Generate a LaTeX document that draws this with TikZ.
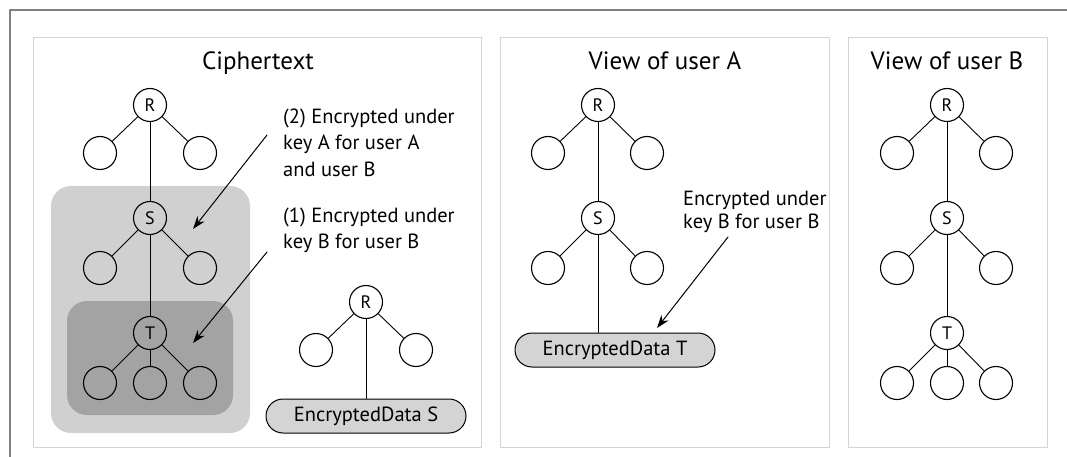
\documentclass[tikz,border=0pt]{standalone}
\usepackage{fontspec}
\setmainfont{PT Sans}
\usetikzlibrary{arrows.meta}
\definecolor{lightbox}{RGB}{208,208,208}
\definecolor{darkbox}{RGB}{163,163,163}
\definecolor{capfill}{RGB}{212,212,212}
\definecolor{panelline}{RGB}{212,212,212}
\definecolor{framegray}{RGB}{128,128,128}

\begin{document}
\begin{tikzpicture}[line cap=round,line join=round,>={Stealth[length=13pt,width=9pt]},x=1pt,y=-1pt,
	knot/.style={circle,draw,line width=1.1pt,minimum size=33pt,inner sep=0pt,font=\fontsize{18}{18}\selectfont},
	leaf/.style={circle,draw,line width=1.1pt,minimum size=33pt,inner sep=0pt},
	edge/.style={line width=0.9pt},
	capsule/.style={draw,line width=1pt,fill=capfill,rounded corners=17pt,minimum width=200pt,minimum height=34pt,inner sep=0pt,font=\fontsize{20.5}{20.5}\selectfont},
	title/.style={anchor=base,font=\fontsize{25}{25}\selectfont},
	note/.style={anchor=base west,align=left,inner sep=0pt,font=\fontsize{20.5}{26}\selectfont}]
			\useasboundingbox (0,0) rectangle (1067,457);
			%%%%%%%%%%%%%%% F R A M E %%%%%%%%%%%%%%%%
			\draw [line width=1.2pt,color=framegray] (1067,10) -- (10,10) -- (10,457);
			%panels
			\draw [line width=0.8pt,color=panelline] (33,37) rectangle (481,447);
			\draw [line width=0.8pt,color=panelline] (500,37) rectangle (829,447);
			\draw [line width=0.8pt,color=panelline] (848,37) rectangle (1047,447);
			%%%%%%%%%%%%%%% S H A D E S %%%%%%%%%%%%%%%%
			\fill [color=lightbox,rounded corners=20pt] (51,186) rectangle (250,433);
			\fill [color=darkbox,rounded corners=20pt] (67,301) rectangle (233,415);
			%%%%%%%%%%%%%%% T I T L E S %%%%%%%%%%%%%%%%
			\node [title] (tcipher) at (258,70) {Ciphertext};
			\node [title] (tviewA) at (665,70) {View of user A};
			\node [title] (tviewB) at (947,70) {View of user B};
			%%%%%%%%%%%%%%% C I P H E R T E X T %%%%%%%%%%%%%%%%
			%tree 1
			\node [knot] (cR) at (150,105) {R};
			\node [leaf] (cRl) at (100,153) {};
			\node [leaf] (cRr) at (200,153) {};
			\node [knot] (cS) at (150,218) {S};
			\node [leaf] (cSl) at (100,268) {};
			\node [leaf] (cSr) at (200,268) {};
			\node [knot] (cT) at (150,333) {T};
			\node [leaf] (cTl) at (100,383) {};
			\node [leaf] (cTm) at (150,383) {};
			\node [leaf] (cTr) at (200,383) {};
			\draw [edge] (cR) -- (cRl);
			\draw [edge] (cR) -- (cRr);
			\draw [edge] (cR) -- (cS);
			\draw [edge] (cS) -- (cSl);
			\draw [edge] (cS) -- (cSr);
			\draw [edge] (cS) -- (cT);
			\draw [edge] (cT) -- (cTl);
			\draw [edge] (cT) -- (cTm);
			\draw [edge] (cT) -- (cTr);
			%tree 2
			\node [knot] (dR) at (366,302) {R};
			\node [leaf] (dRl) at (316,350) {};
			\node [leaf] (dRr) at (416,350) {};
			\node [capsule] (dataS) at (366,416) {EncryptedData S};
			\draw [edge] (dR) -- (dRl);
			\draw [edge] (dR) -- (dRr);
			\draw [edge] (dR) -- (dataS);
			%notes (base = last line)
			\node [note] (keyAB) at (283,176) {(2) Encrypted under\\key A for user A\\and user B};
			\node [note] (keyB) at (283,248) {(1) Encrypted under\\key B for user B};
			\coordinate (fromAB) at (267,135);
			\coordinate (toAB) at (193,229);
			\coordinate (fromB) at (267,252);
			\coordinate (toB) at (193,343);
			\draw [->,line width=1pt] (fromAB) -- (toAB);
			\draw [->,line width=1pt] (fromB) -- (toB);
			%%%%%%%%%%%%%%% U S E R   A %%%%%%%%%%%%%%%%
			\node [knot] (aR) at (598,105) {R};
			\node [leaf] (aRl) at (548,153) {};
			\node [leaf] (aRr) at (647,153) {};
			\node [knot] (aS) at (598,218) {S};
			\node [leaf] (aSl) at (548,268) {};
			\node [leaf] (aSr) at (647,268) {};
			\node [capsule] (dataT) at (615,350) {EncryptedData T};
			\draw [edge] (aR) -- (aRl);
			\draw [edge] (aR) -- (aRr);
			\draw [edge] (aR) -- (aS);
			\draw [edge] (aS) -- (aSl);
			\draw [edge] (aS) -- (aSr);
			\draw [edge] (aS) -- (aS |- dataT.north);
			\node [note,font=\fontsize{20.5}{23}\selectfont] (viewAkey) at (683,228) {Encrypted under\\key B for user B};
			\coordinate (fromT) at (728,237);
			\coordinate (toT) at (657,328);
			\draw [->,line width=1pt] (fromT) -- (toT);
			%%%%%%%%%%%%%%% U S E R   B %%%%%%%%%%%%%%%%
			\node [knot] (bR) at (947,105) {R};
			\node [leaf] (bRl) at (897,153) {};
			\node [leaf] (bRr) at (996,153) {};
			\node [knot] (bS) at (947,218) {S};
			\node [leaf] (bSl) at (897,268) {};
			\node [leaf] (bSr) at (996,268) {};
			\node [knot] (bT) at (947,333) {T};
			\node [leaf] (bTl) at (897,383) {};
			\node [leaf] (bTm) at (947,383) {};
			\node [leaf] (bTr) at (996,383) {};
			\draw [edge] (bR) -- (bRl);
			\draw [edge] (bR) -- (bRr);
			\draw [edge] (bR) -- (bS);
			\draw [edge] (bS) -- (bSl);
			\draw [edge] (bS) -- (bSr);
			\draw [edge] (bS) -- (bT);
			\draw [edge] (bT) -- (bTl);
			\draw [edge] (bT) -- (bTm);
			\draw [edge] (bT) -- (bTr);
\end{tikzpicture}
\end{document}
